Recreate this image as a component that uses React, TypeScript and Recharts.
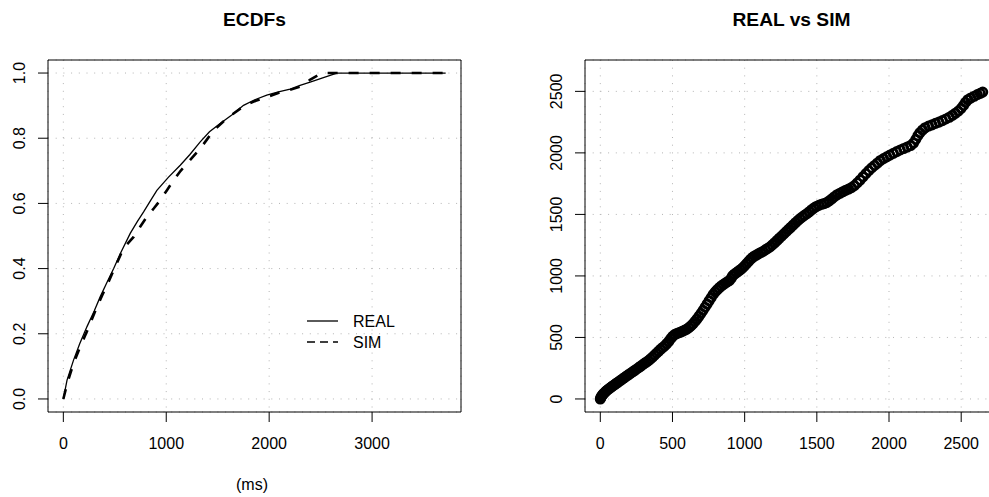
import React from "react";
import {
  LineChart,
  Line,
  ScatterChart,
  Scatter,
  XAxis,
  YAxis,
  CartesianGrid,
  ReferenceArea,
  Legend,
} from "recharts";

const FONT = '"Liberation Sans", Arial, Helvetica, sans-serif';

// ECDF curves (x in ms, y = cumulative share)
const realMs = [0, 36, 100, 160, 230, 300, 359, 420, 489, 560, 650, 720, 780, 850, 909, 1020, 1136, 1230, 1330, 1420, 1524, 1640, 1751, 1860, 1977, 2090, 2204, 2300, 2398, 2520, 2657, 3715];
const realP = [0, 0.058, 0.12, 0.17, 0.222, 0.27, 0.314, 0.355, 0.4, 0.45, 0.508, 0.545, 0.574, 0.61, 0.64, 0.68, 0.717, 0.75, 0.789, 0.82, 0.845, 0.872, 0.901, 0.918, 0.932, 0.942, 0.951, 0.962, 0.972, 0.985, 1, 1];
const simMs = [0, 40, 100, 170, 240, 310, 380, 440, 489, 560, 620, 683, 750, 812, 880, 942, 1010, 1071, 1140, 1201, 1265, 1330, 1400, 1460, 1550, 1654, 1760, 1870, 1977, 2100, 2200, 2301, 2400, 2512, 3715];
const simP = [0, 0.05, 0.11, 0.165, 0.215, 0.27, 0.32, 0.36, 0.395, 0.445, 0.475, 0.497, 0.53, 0.559, 0.585, 0.61, 0.642, 0.671, 0.7, 0.722, 0.745, 0.768, 0.798, 0.824, 0.85, 0.876, 0.9, 0.915, 0.926, 0.94, 0.948, 0.958, 0.98, 1, 1];

// quantile pairs of the right panel
const realQ = [
  0, 4, 9, 15, 22, 30, 38, 46, 55, 64,
  73, 82, 92, 102, 112, 122, 133, 144, 155, 166,
  178, 190, 202, 214, 227, 240, 253, 266, 279, 292,
  306, 320, 334, 348, 362, 376, 390, 404, 418, 432,
  446, 460, 474, 488, 502, 516, 530, 544, 558, 572,
  586, 600, 614, 628, 642, 656, 670, 684, 698, 712,
  726, 740, 754, 768, 782, 796, 810, 824, 838, 852,
  866, 880, 894, 906, 916, 928, 942, 956, 970, 984,
  998, 1012, 1026, 1040, 1054, 1068, 1082, 1096, 1112, 1128,
  1144, 1160, 1176, 1192, 1208, 1224, 1240, 1256, 1272, 1288,
  1304, 1320, 1336, 1352, 1368, 1384, 1400, 1416, 1432, 1448,
  1464, 1480, 1496, 1514, 1532, 1550, 1568, 1586, 1604, 1622,
  1640, 1660, 1680, 1700, 1720, 1740, 1760, 1780, 1800, 1820,
  1840, 1860, 1880, 1900, 1920, 1940, 1962, 1984, 2006, 2030,
  2054, 2078, 2102, 2126, 2150, 2170, 2186, 2200, 2214, 2232,
  2250, 2274, 2298, 2322, 2346, 2370, 2394, 2418, 2440, 2460,
  2480, 2500, 2516, 2530, 2546, 2566, 2590, 2612, 2632, 2649,
];
const simQ = [
  0, 12, 22, 32, 42, 52, 62, 70, 78, 86,
  94, 102, 110, 119, 128, 136, 145, 154, 163, 172,
  183, 193, 203, 212, 222, 233, 244, 255, 266, 277,
  289, 300, 312, 326, 340, 356, 372, 388, 404, 418,
  432, 449, 468, 490, 510, 524, 532, 538, 544, 552,
  560, 568, 580, 594, 610, 630, 650, 672, 696, 720,
  746, 772, 798, 824, 850, 870, 888, 904, 918, 930,
  942, 952, 962, 980, 1000, 1014, 1026, 1038, 1050, 1064,
  1080, 1098, 1116, 1134, 1150, 1162, 1170, 1180, 1190, 1200,
  1212, 1224, 1236, 1252, 1270, 1288, 1306, 1324, 1342, 1360,
  1378, 1396, 1414, 1432, 1450, 1466, 1480, 1494, 1506, 1522,
  1538, 1552, 1564, 1574, 1582, 1588, 1596, 1610, 1626, 1644,
  1660, 1672, 1684, 1696, 1706, 1718, 1734, 1756, 1780, 1806,
  1832, 1856, 1878, 1898, 1918, 1938, 1954, 1968, 1982, 1996,
  2010, 2024, 2036, 2048, 2060, 2080, 2110, 2140, 2164, 2186,
  2204, 2218, 2228, 2240, 2250, 2262, 2276, 2290, 2306, 2322,
  2340, 2362, 2386, 2410, 2432, 2446, 2460, 2474, 2484, 2494,
];

const ecdfTicksX = [0, 1000, 2000, 3000];
const ecdfTicksY = [0, 0.2, 0.4, 0.6, 0.8, 1];
const qqTicks = [0, 500, 1000, 1500, 2000, 2500];

const realData = realMs.map((x, i) => ({ x, y: realP[i] }));
const simData = simMs.map((x, i) => ({ x, y: simP[i] }));
const qqData = realQ.map((x, i) => ({ x, y: simQ[i] }));

const ECDF_X: [number, number] = [-149, 3864];
const ECDF_Y: [number, number] = [-0.04, 1.04];
const QQ_DOM: [number, number] = [-106, 2755];

const GRID = "#b4b4b4";

function XTick(props: any) {
  const { x, payload } = props;
  return (
    <text x={x} y={448.5} textAnchor="middle" fontSize={16} fontFamily={FONT} fill="#000">
      {payload.value}
    </text>
  );
}

function YTick(props: any) {
  const { y, payload, bx, fmt } = props;
  const label = fmt ? fmt(payload.value) : payload.value;
  return (
    <text
      x={bx}
      y={y}
      transform={`rotate(-90, ${bx}, ${y})`}
      textAnchor="middle"
      fontSize={16}
      fontFamily={FONT}
      fill="#000"
    >
      {label}
    </text>
  );
}

// open circle, R pch = 1 (heavily overplotted in the original)
function Ring(props: any) {
  return <circle cx={props.cx} cy={props.cy} r={4.2} fill="none" stroke="#000" strokeWidth={2.7} />;
}

function EcdfKey() {
  return (
    <svg width={100} height={44} style={{ display: "block", overflow: "visible" }}>
      <line x1={0} x2={31} y1={11} y2={11} stroke="#000" strokeWidth={1.3} />
      <text x={46} y={11} dy="0.36em" fontSize={16} fontFamily={FONT} fill="#000">REAL</text>
      <line x1={0} x2={31} y1={32} y2={32} stroke="#000" strokeWidth={1.3} strokeDasharray="8 5" />
      <text x={46} y={32} dy="0.36em" fontSize={16} fontFamily={FONT} fill="#000">SIM</text>
    </svg>
  );
}

export default function App() {
  return (
    <div
      style={{
        position: "absolute",
        left: 0,
        top: 0,
        width: 989,
        height: 497,
        overflow: "hidden",
        background: "#fff",
        fontFamily: FONT,
      }}
    >
      <div style={{ position: "absolute", left: 0, top: 0 }}>
        <LineChart width={489} height={497} margin={{ top: 60, right: 28, left: 0, bottom: 0 }}>
          <CartesianGrid stroke={GRID} strokeDasharray="1 6.7" />
          <XAxis
            type="number"
            dataKey="x"
            domain={ECDF_X}
            ticks={ecdfTicksX}
            interval={0}
            allowDataOverflow
            height={85}
            tickSize={10}
            axisLine={false}
            tickLine={{ stroke: "#000" }}
            tick={(p: any) => <XTick {...p} />}
          />
          <YAxis
            type="number"
            domain={ECDF_Y}
            ticks={ecdfTicksY}
            interval={0}
            allowDataOverflow
            width={48}
            tickSize={10}
            axisLine={false}
            tickLine={{ stroke: "#000" }}
            tick={(p: any) => <YTick {...p} bx={25} fmt={(v: number) => v.toFixed(1)} />}
          />
          <Line
            data={realData}
            dataKey="y"
            type="linear"
            stroke="#000"
            strokeWidth={1.3}
            dot={false}
            isAnimationActive={false}
          />
          <Line
            data={simData}
            dataKey="y"
            type="linear"
            stroke="#000"
            strokeWidth={2.6}
            strokeDasharray="10 11"
            dot={false}
            isAnimationActive={false}
          />
          <ReferenceArea
            x1={ECDF_X[0]}
            x2={ECDF_X[1]}
            y1={ECDF_Y[0]}
            y2={ECDF_Y[1]}
            fill="none"
            fillOpacity={0}
            stroke="#000"
            strokeWidth={1}
            ifOverflow="visible"
          />
          <Legend
            layout="vertical"
            align="center"
            verticalAlign="middle"
            content={() => <EcdfKey />}
            wrapperStyle={{ left: 307, top: 310, width: 100, height: 44 }}
          />
        </LineChart>
      </div>

      <div style={{ position: "absolute", left: 500, top: 0 }}>
        <ScatterChart width={500} height={497} margin={{ top: 60, right: 2, left: 0, bottom: 0 }}>
          <CartesianGrid stroke={GRID} strokeDasharray="1 6.7" />
          <XAxis
            type="number"
            dataKey="x"
            domain={QQ_DOM}
            ticks={qqTicks}
            interval={0}
            allowDataOverflow
            height={85}
            tickSize={10}
            axisLine={false}
            tickLine={{ stroke: "#000" }}
            tick={(p: any) => <XTick {...p} />}
          />
          <YAxis
            type="number"
            dataKey="y"
            domain={QQ_DOM}
            ticks={qqTicks}
            interval={0}
            allowDataOverflow
            width={85}
            tickSize={10}
            axisLine={false}
            tickLine={{ stroke: "#000" }}
            tick={(p: any) => <YTick {...p} bx={62} />}
          />
          <Scatter data={qqData} shape={Ring} isAnimationActive={false} />
          <ReferenceArea
            x1={QQ_DOM[0]}
            x2={QQ_DOM[1]}
            y1={QQ_DOM[0]}
            y2={QQ_DOM[1]}
            fill="none"
            fillOpacity={0}
            stroke="#000"
            strokeWidth={1}
            ifOverflow="visible"
          />
        </ScatterChart>
      </div>

      <svg
        width={989}
        height={497}
        style={{ position: "absolute", left: 0, top: 0, pointerEvents: "none" }}
      >
        <text x={254.5} y={26} textAnchor="middle" fontSize={19.2} fontWeight="bold" fontFamily={FONT} fill="#000">
          ECDFs
        </text>
        <text x={791.5} y={26} textAnchor="middle" fontSize={19.2} fontWeight="bold" fontFamily={FONT} fill="#000">
          REAL vs SIM
        </text>
        <text x={252} y={489.5} textAnchor="middle" fontSize={16} fontFamily={FONT} fill="#000">
          (ms)
        </text>
      </svg>
    </div>
  );
}
